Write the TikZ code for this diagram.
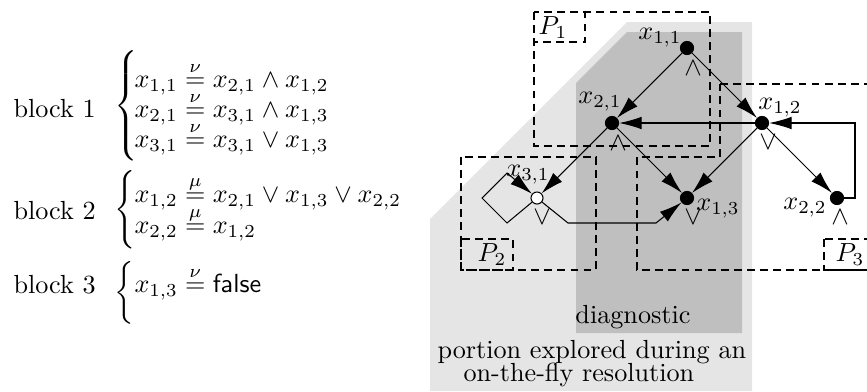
\documentclass[tikz,border=0pt]{standalone}
\usetikzlibrary{arrows.meta}
\begin{document}
\begin{tikzpicture}[x=0.382pt,y=-0.382pt,
  vtx/.style={circle,fill=black,draw=black,line width=0.4pt,minimum size=5pt,inner sep=0pt},
  ovtx/.style={circle,fill=white,draw=black,line width=0.4pt,minimum size=4.6pt,inner sep=0pt},
  txt/.style={inner sep=0pt},
  eqn/.style={inner sep=0pt,anchor=base west},
  edge/.style={line width=0.4pt,-{Latex[length=8.6pt,width=4.8pt]}},
  part/.style={line width=0.4pt,dash pattern=on 3pt off 2pt},
]
\useasboundingbox (0,0) rectangle (867,391);
\clip (0,0) rectangle (867,391);
% shaded regions
\fill[gray!20] (430,391) -- (430,219) -- (627,22) -- (752,22) -- (752,391) -- cycle;
\fill[gray!50] (576,333) -- (576,83) -- (627,32) -- (742,32) -- (742,333) -- cycle;
% partitions
\draw[part] (534,12) rectangle (710,146);
\draw[part] (534,12) rectangle (585,42);
\node[txt] (p1) at (553,28) {$P_1$};
\draw[part] (461,157) rectangle (596,270);
\draw[part] (461,239) rectangle (513,270);
\node[txt] (p2) at (492,255) {$P_2$};
\draw[part] (720,84) -- (880,84) -- (880,270) -- (637,270) -- (637,157) -- (720,157) -- cycle;
\draw[part] (824,239) rectangle (876,270);
\node[txt] (p3) at (850,255) {$P_3$};
% vertices
\node[vtx] (x11) at (687,48) {};
\node[vtx] (x21) at (612,123) {};
\node[vtx] (x12) at (762,123) {};
\node[ovtx] (x31) at (537,198) {};
\node[vtx] (x13) at (687,198) {};
\node[vtx] (x22) at (837,198) {};
% names
\node[txt] (l11) at (660,38) {$x_{1,1}$};
\node[txt] (l21) at (600,102) {$x_{2,1}$};
\node[txt] (l12) at (780,108) {$x_{1,2}$};
\node[txt] (l31) at (528,175) {$x_{3,1}$};
\node[txt] (l13) at (718,209) {$x_{1,3}$};
\node[txt] (l22) at (805,208) {$x_{2,2}$};
% operators
\node[txt] (o11) at (693,68) {$\wedge$};
\node[txt] (o21) at (618,143) {$\wedge$};
\node[txt] (o12) at (768,142) {$\vee$};
\node[txt] (o31) at (542,217) {$\vee$};
\node[txt] (o13) at (693,217) {$\vee$};
\node[txt] (o22) at (840,217) {$\wedge$};
% edges
\draw[edge] (x11) -- (x21);
\draw[edge] (x11) -- (x12);
\draw[edge] (x12) -- (x21);
\draw[edge] (x21) -- (x31);
\draw[edge] (x21) -- (x13);
\draw[edge] (x12) -- (x13);
\draw[edge] (x12) -- (x22);
\coordinate (r1) at (855,198);
\draw[edge] (x22) -- (r1) |- (x12);
\coordinate (lb) at (507,223);
\coordinate (ll) at (482,198);
\coordinate (lt) at (507,173);
\draw[edge] (x31) -- (lb) -- (ll) -- (lt) -- (x31);
\coordinate (d1) at (568,223);
\coordinate (d2) at (656,223);
\draw[edge] (x31) -- (d1) -- (d2) -- (x13);
% captions
\node[txt] (diag) at (633,317) {diagnostic};
\node[eqn] (por1) at (437,358) {portion explored during an};
\node[eqn] (por2) at (463,381) {on-the-fly resolution};
% equation system
\node[eqn] (b1) at (13,117) {block 1};
\node[eqn] (br1) at (114,112.5) {$\left\{\vcenter{\hbox{\vrule height 43pt width 0pt}}\right.$};
\node[eqn] (e11) at (134,87.5) {$x_{1,1}\stackrel{\nu}{=}x_{2,1}\wedge x_{1,2}$};
\node[eqn] (e12) at (134,117.5) {$x_{2,1}\stackrel{\nu}{=}x_{3,1}\wedge x_{1,3}$};
\node[eqn] (e13) at (134,147.5) {$x_{3,1}\stackrel{\nu}{=}x_{3,1}\vee x_{1,3}$};
\node[eqn] (b2) at (13,219) {block 2};
\node[eqn] (br2) at (114,216.5) {$\left\{\vcenter{\hbox{\vrule height 30pt width 0pt}}\right.$};
\node[eqn] (e21) at (134,202.5) {$x_{1,2}\stackrel{\mu}{=}x_{2,1}\vee x_{1,3}\vee x_{2,2}$};
\node[eqn] (e22) at (134,233.5) {$x_{2,2}\stackrel{\mu}{=}x_{1,2}$};
\node[eqn] (b3) at (13,293) {block 3};
\node[eqn] (br3) at (114,299.5) {$\left\{\vcenter{\hbox{\vrule height 24pt width 0pt}}\right.$};
\node[eqn] (e31) at (134,292.5) {$x_{1,3}\stackrel{\nu}{=}\mathsf{false}$};
\end{tikzpicture}
\end{document}
